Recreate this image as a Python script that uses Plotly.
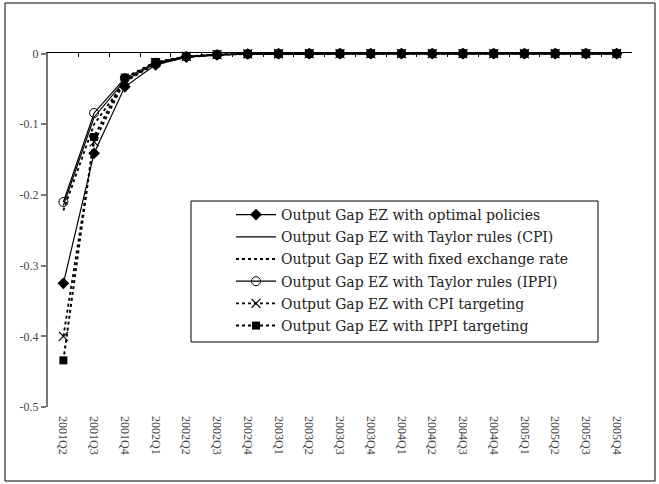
import plotly.graph_objects as go

quarters = ["2001Q2", "2001Q3", "2001Q4", "2002Q1", "2002Q2", "2002Q3", "2002Q4",
            "2003Q1", "2003Q2", "2003Q3", "2003Q4", "2004Q1", "2004Q2", "2004Q3",
            "2004Q4", "2005Q1", "2005Q2", "2005Q3", "2005Q4"]

optimal = [-0.325, -0.141, -0.047, -0.016, -0.005, -0.002, -0.0006, -0.0002, 0, 0, 0, 0, 0, 0, 0, 0, 0, 0, 0]
taylor_cpi = [-0.215, -0.09, -0.038, -0.014, -0.005, -0.002, -0.0006, -0.0002, 0, 0, 0, 0, 0, 0, 0, 0, 0, 0, 0]
fixed_er = [-0.222, -0.10, -0.040, -0.015, -0.005, -0.002, -0.0006, -0.0002, 0, 0, 0, 0, 0, 0, 0, 0, 0, 0, 0]
taylor_ippi = [-0.21, -0.084, -0.035, -0.013, -0.004, -0.0015, -0.0005, -0.0002, 0, 0, 0, 0, 0, 0, 0, 0, 0, 0, 0]
cpi_target = [-0.40, -0.125, -0.038, -0.013, -0.004, -0.0015, -0.0005, -0.0002, 0, 0, 0, 0, 0, 0, 0, 0, 0, 0, 0]
ippi_target = [-0.434, -0.118, -0.034, -0.012, -0.004, -0.0013, -0.0004, -0.0001, 0, 0, 0, 0, 0, 0, 0, 0, 0, 0, 0]

names = ["Output Gap EZ with optimal policies",
         "Output Gap EZ with Taylor rules (CPI)",
         "Output Gap EZ with fixed exchange rate",
         "Output Gap EZ with Taylor rules (IPPI)",
         "Output Gap EZ with CPI targeting",
         "Output Gap EZ with IPPI targeting"]

y_ticks = [0, -0.1, -0.2, -0.3, -0.4, -0.5]
y_tick_labels = ["0", "-0.1", "-0.2", "-0.3", "-0.4", "-0.5"]

FONT = "DejaVu Serif"
TICKFONT = "Liberation Serif"

# plot area in pixels
L, R, T, B = 48, 632, 53, 407
PW, PH = R - L, B - T


def px_x(x):
    return (x - L) / PW


def px_y(y):
    return (B - y) / PH


fig = go.Figure()

styles = [
    (optimal, dict(color="black", width=1.2, dash="solid"), dict(symbol="diamond", size=9, color="black")),
    (taylor_cpi, dict(color="black", width=1.2, dash="solid"), None),
    (fixed_er, dict(color="black", width=1.8, dash="dot"), None),
    (taylor_ippi, dict(color="black", width=1.2, dash="solid"),
     dict(symbol="circle-open", size=9, color="black", line=dict(width=1))),
    (cpi_target, dict(color="black", width=1.8, dash="dot"),
     dict(symbol="x-thin-open", size=9, color="black", line=dict(width=1.2))),
    (ippi_target, dict(color="black", width=2, dash="dot"), dict(symbol="square", size=8, color="black")),
]

for i, ((vals, ln, mk), nm) in enumerate(zip(styles, names)):
    fig.add_trace(go.Scatter(
        x=quarters, y=vals, name=nm, legendgroup=f"g{i}",
        mode="lines+markers" if mk else "lines",
        line=ln, marker=mk if mk else None,
        cliponaxis=False,
    ))

# invisible trace for the top axis (x axis line at y = 0)
fig.add_trace(go.Scatter(x=quarters, y=[None] * len(quarters), xaxis="x2",
                         showlegend=False, hoverinfo="skip"))

fig.update_layout(
    width=659, height=484,
    margin=dict(l=L, r=659 - R, t=T, b=484 - B),
    paper_bgcolor="white", plot_bgcolor="white",
    font=dict(family=FONT, color="#333333"),
    showlegend=True,
    legend=dict(x=px_x(231), y=px_y(199), xanchor="left", yanchor="top",
                borderwidth=0, bgcolor="rgba(0,0,0,0)",
                font=dict(family=FONT, size=14, color="#222222"),
                tracegroupgap=1, itemwidth=40),
    xaxis=dict(type="category", categoryorder="array", categoryarray=quarters,
               range=[-0.5, len(quarters) - 0.5],
               showline=False, showgrid=False, ticks="", tickangle=90,
               ticklabelstandoff=8,
               tickfont=dict(family=TICKFONT, size=12, color="#444444")),
    xaxis2=dict(type="category", categoryorder="array", categoryarray=quarters,
                overlaying="x", side="top", anchor="y",
                range=[-0.5, len(quarters) - 0.5],
                showline=True, linecolor="black", linewidth=1,
                ticks="inside", tickson="boundaries", ticklen=4, tickcolor="black",
                showticklabels=False, showgrid=False),
    yaxis=dict(range=[-0.5, 0.0008], tickvals=y_ticks, ticktext=y_tick_labels,
               showline=True, linecolor="#777777", linewidth=2,
               ticks="outside", ticklen=5, tickcolor="#777777", tickwidth=1.5,
               showgrid=False, zeroline=False,
               tickfont=dict(family=TICKFONT, size=12, color="#444444")),
    shapes=[
        dict(type="rect", xref="paper", yref="paper",
             x0=px_x(5), x1=px_x(655), y0=px_y(481), y1=px_y(3),
             line=dict(color="black", width=1), fillcolor="rgba(0,0,0,0)"),
        dict(type="rect", xref="paper", yref="paper", layer="above",
             x0=px_x(191), x1=px_x(598), y0=px_y(342), y1=px_y(201),
             line=dict(color="black", width=1), fillcolor="white"),
    ],
)

fig.write_html("out.html", config={"displayModeBar": False},
               post_script="document.body.style.margin='0px';")
